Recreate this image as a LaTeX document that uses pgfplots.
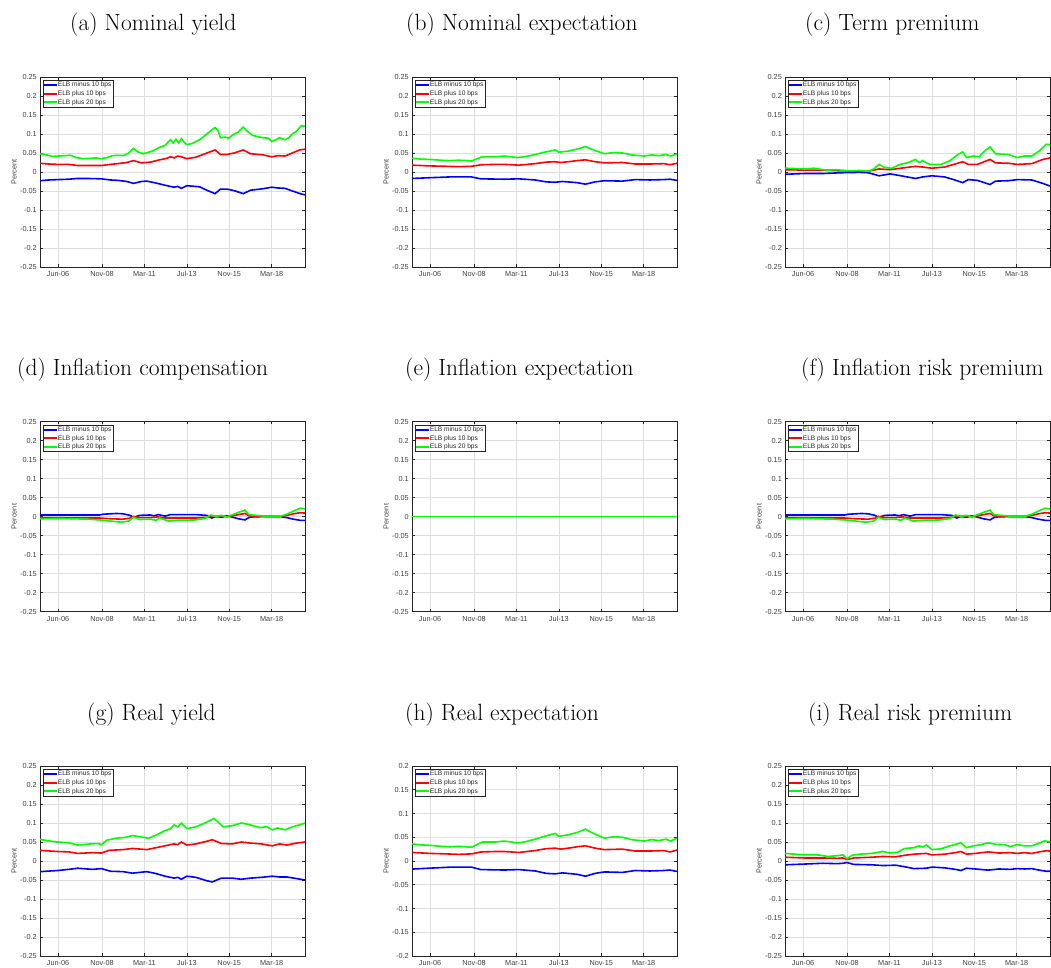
\documentclass[border=0pt]{standalone}
\usepackage{fontspec}
\usepackage{pgfplots}
\usepackage{pgfplotstable}
\pgfplotsset{compat=1.18}
\newfontfamily\hv{Liberation Sans}
\definecolor{mgrid}{RGB}{222,222,222}
\definecolor{maxis}{RGB}{38,38,38}

% ---- (a) Nominal yield
\pgfplotstableread{
x y
2005.42 -0.023
2005.9 -0.021
2006.42 -0.020
2007.0 -0.019
2007.5 -0.017
2008.0 -0.017
2008.8 -0.018
2009.3 -0.021
2009.7 -0.022
2010.2 -0.025
2010.56 -0.030
2011.0 -0.025
2011.3 -0.024
2011.8 -0.029
2012.4 -0.036
2012.8 -0.040
2013.0 -0.038
2013.2 -0.043
2013.5 -0.036
2014.2 -0.039
2014.6 -0.048
2015.05 -0.057
2015.35 -0.045
2015.7 -0.045
2016.1 -0.049
2016.6 -0.057
2017.0 -0.048
2017.7 -0.044
2018.17 -0.040
2018.5 -0.042
2018.9 -0.043
2019.3 -0.050
2019.8 -0.058
2020.0 -0.060
}\aB
\pgfplotstableread{
x y
2005.42 0.023
2005.9 0.021
2006.42 0.020
2007.0 0.020
2007.5 0.017
2008.0 0.017
2008.8 0.017
2009.3 0.020
2009.7 0.022
2010.2 0.025
2010.56 0.030
2011.0 0.024
2011.5 0.026
2012.0 0.032
2012.4 0.036
2012.6 0.040
2012.8 0.037
2013.0 0.042
2013.2 0.040
2013.5 0.035
2014.0 0.039
2014.5 0.048
2015.05 0.058
2015.35 0.046
2015.7 0.046
2016.1 0.050
2016.6 0.058
2017.0 0.048
2017.7 0.045
2018.17 0.040
2018.5 0.043
2018.9 0.042
2019.3 0.050
2019.7 0.058
2020.0 0.060
}\aR
\pgfplotstableread{
x y
2005.42 0.048
2005.8 0.045
2006.1 0.041
2006.42 0.042
2006.8 0.043
2007.1 0.044
2007.4 0.038
2007.8 0.035
2008.2 0.036
2008.5 0.037
2008.8 0.035
2009.1 0.038
2009.4 0.043
2009.7 0.044
2010.0 0.043
2010.3 0.050
2010.56 0.062
2010.8 0.053
2011.1 0.048
2011.4 0.052
2011.65 0.056
2012.0 0.065
2012.3 0.070
2012.5 0.080
2012.6 0.085
2012.75 0.076
2012.9 0.086
2013.05 0.076
2013.2 0.088
2013.35 0.078
2013.5 0.072
2013.8 0.075
2014.2 0.085
2014.6 0.100
2014.9 0.112
2015.05 0.117
2015.2 0.110
2015.35 0.090
2015.6 0.092
2015.8 0.089
2016.1 0.100
2016.3 0.104
2016.6 0.118
2016.8 0.108
2017.1 0.097
2017.4 0.093
2017.7 0.090
2018.0 0.089
2018.17 0.080
2018.4 0.085
2018.6 0.090
2018.9 0.085
2019.1 0.090
2019.3 0.100
2019.5 0.106
2019.8 0.122
2020.0 0.120
}\aG

% ---- (b) Nominal expectation = (h) Real expectation
\pgfplotstableread{
x y
2005.42 -0.017
2006.42 -0.015
2007.5 -0.013
2008.7 -0.013
2009.2 -0.018
2010.5 -0.019
2011.3 -0.018
2012.2 -0.021
2012.8 -0.026
2013.3 -0.027
2013.7 -0.025
2014.5 -0.028
2014.96 -0.032
2015.5 -0.026
2016.0 -0.023
2017.0 -0.024
2017.7 -0.020
2018.5 -0.021
2019.3 -0.020
2019.6 -0.019
2020.0 -0.022
}\bB
\pgfplotstableread{
x y
2005.42 0.018
2006.42 0.016
2007.3 0.015
2008.0 0.014
2008.7 0.015
2009.2 0.019
2010.0 0.020
2010.5 0.020
2011.3 0.018
2012.2 0.022
2012.8 0.026
2013.3 0.027
2013.6 0.025
2014.2 0.028
2014.5 0.030
2014.96 0.032
2015.5 0.027
2016.0 0.024
2017.0 0.025
2017.7 0.021
2018.5 0.021
2019.3 0.022
2019.6 0.019
2020.0 0.023
}\bR
\pgfplotstableread{
x y
2005.42 0.036
2005.9 0.034
2006.42 0.033
2007.0 0.031
2007.5 0.030
2008.0 0.031
2008.7 0.029
2009.0 0.035
2009.3 0.040
2010.0 0.040
2010.5 0.042
2010.9 0.040
2011.2 0.038
2011.6 0.040
2012.2 0.046
2012.6 0.051
2013.0 0.055
2013.3 0.058
2013.5 0.052
2014.0 0.055
2014.5 0.060
2014.96 0.067
2015.3 0.060
2015.7 0.053
2016.0 0.048
2016.5 0.051
2017.0 0.050
2017.5 0.045
2018.2 0.042
2018.6 0.045
2019.0 0.043
2019.4 0.046
2019.65 0.042
2020.0 0.048
}\bG

% ---- (c) Term premium
\pgfplotstableread{
x y
2005.42 -0.006
2006.5 -0.004
2007.5 -0.004
2008.5 -0.002
2009.5 -0.001
2010.0 -0.002
2010.6 -0.010
2011.2 -0.005
2011.8 -0.010
2012.6 -0.017
2013.0 -0.013
2013.5 -0.010
2014.2 -0.013
2014.7 -0.020
2015.2 -0.028
2015.5 -0.020
2016.0 -0.022
2016.7 -0.033
2017.0 -0.024
2017.7 -0.023
2018.2 -0.020
2019.0 -0.021
2019.6 -0.030
2020.0 -0.037
}\cB
\pgfplotstableread{
x y
2005.42 0.006
2006.5 0.005
2007.5 0.005
2008.5 0.003
2009.5 0.002
2010.0 0.002
2010.6 0.008
2011.2 0.006
2011.8 0.010
2012.6 0.015
2013.0 0.013
2013.5 0.010
2014.2 0.013
2014.7 0.020
2015.2 0.027
2015.5 0.020
2016.0 0.020
2016.7 0.033
2017.0 0.024
2017.7 0.023
2018.2 0.020
2019.0 0.022
2019.6 0.033
2020.0 0.037
}\cR
\pgfplotstableread{
x y
2005.42 0.010
2006.0 0.009
2006.5 0.008
2007.0 0.010
2007.4 0.007
2007.7 0.005
2008.3 0.006
2009.0 0.003
2009.5 0.004
2010.0 0.002
2010.3 0.008
2010.6 0.020
2010.8 0.014
2011.0 0.011
2011.3 0.010
2011.7 0.019
2012.2 0.025
2012.6 0.033
2012.8 0.025
2013.0 0.030
2013.2 0.024
2013.4 0.020
2014.0 0.020
2014.5 0.030
2014.9 0.045
2015.2 0.053
2015.4 0.038
2015.8 0.042
2016.1 0.040
2016.4 0.055
2016.7 0.066
2017.0 0.048
2017.7 0.046
2018.2 0.038
2018.6 0.042
2019.0 0.042
2019.4 0.055
2019.8 0.073
2020.0 0.072
}\cG

% ---- (d) Inflation compensation = (f) Inflation risk premium
\pgfplotstableread{
x y
2005.42 0.004
2008.7 0.004
2008.9 0.006
2009.64 0.008
2010.0 0.007
2010.37 0.003
2010.56 -0.002
2010.92 0.003
2011.47 0.004
2011.7 0.002
2011.93 0.005
2012.3 0.001
2012.6 0.005
2014.0 0.005
2014.6 0.003
2014.87 -0.004
2015.1 0.000
2015.42 -0.002
2015.7 0.002
2015.95 -0.001
2016.34 -0.006
2016.7 -0.009
2016.9 -0.003
2017.16 -0.001
2017.9 0.000
2018.6 0.000
2019.0 -0.003
2019.36 -0.007
2019.73 -0.010
2020.0 -0.010
}\dB
\pgfplotstableread{
x y
2005.42 -0.003
2008.7 -0.004
2009.3 -0.006
2010.0 -0.007
2010.4 -0.004
2010.56 0.000
2010.9 -0.003
2011.5 -0.003
2011.9 -0.001
2012.3 -0.004
2014.0 -0.004
2014.6 -0.002
2014.87 0.002
2015.1 0.000
2015.42 0.002
2015.7 -0.001
2016.34 0.005
2016.7 0.008
2016.9 0.002
2017.2 0.001
2017.9 0.000
2018.6 0.000
2019.0 0.003
2019.36 0.007
2019.73 0.010
2020.0 0.009
}\dR
\pgfplotstableread{
x y
2005.42 -0.006
2006.5 -0.005
2008.0 -0.007
2008.7 -0.009
2009.3 -0.012
2009.9 -0.015
2010.3 -0.012
2010.56 -0.002
2010.9 -0.008
2011.5 -0.007
2011.8 -0.010
2012.0 -0.004
2012.5 -0.012
2013.0 -0.010
2014.0 -0.009
2014.5 -0.005
2014.8 0.004
2015.1 0.000
2015.4 0.003
2015.7 -0.001
2016.3 0.010
2016.7 0.017
2016.9 0.005
2017.3 0.003
2017.6 0.002
2017.9 0.000
2018.6 0.000
2019.0 0.006
2019.36 0.014
2019.73 0.022
2020.0 0.020
}\dG

% ---- (e) Inflation expectation (all zero)
\pgfplotstableread{
x y
2005.42 0
2020.0 0
}\eZ

% ---- (g) Real yield
\pgfplotstableread{
x y
2005.42 -0.028
2006.4 -0.025
2007.0 -0.022
2007.5 -0.019
2008.3 -0.022
2008.8 -0.020
2009.3 -0.027
2010.0 -0.028
2010.5 -0.032
2011.3 -0.028
2011.8 -0.033
2012.3 -0.040
2012.8 -0.045
2013.0 -0.043
2013.2 -0.048
2013.5 -0.040
2014.0 -0.043
2014.6 -0.052
2014.9 -0.055
2015.4 -0.045
2016.0 -0.045
2016.5 -0.048
2017.0 -0.045
2017.6 -0.043
2018.2 -0.040
2018.6 -0.042
2019.0 -0.042
2019.5 -0.046
2020.0 -0.050
}\gB
\pgfplotstableread{
x y
2005.42 0.028
2006.4 0.025
2007.0 0.024
2007.5 0.020
2008.3 0.022
2008.8 0.021
2009.2 0.028
2010.0 0.030
2010.5 0.033
2011.3 0.030
2011.8 0.035
2012.3 0.040
2012.8 0.045
2013.0 0.043
2013.2 0.050
2013.5 0.042
2014.0 0.045
2014.6 0.052
2014.9 0.056
2015.4 0.046
2016.0 0.045
2016.5 0.050
2017.0 0.047
2017.6 0.045
2018.2 0.040
2018.6 0.045
2019.0 0.042
2019.5 0.047
2020.0 0.050
}\gR
\pgfplotstableread{
x y
2005.42 0.057
2005.9 0.053
2006.4 0.050
2007.0 0.048
2007.5 0.042
2008.2 0.045
2008.6 0.046
2008.8 0.043
2009.1 0.055
2009.6 0.060
2010.1 0.062
2010.5 0.067
2011.0 0.063
2011.4 0.060
2011.8 0.068
2012.3 0.080
2012.6 0.085
2012.8 0.095
2013.0 0.090
2013.2 0.100
2013.5 0.085
2014.0 0.090
2014.5 0.100
2014.9 0.110
2015.0 0.112
2015.5 0.090
2016.0 0.093
2016.5 0.100
2017.0 0.095
2017.5 0.088
2017.9 0.090
2018.2 0.082
2018.5 0.087
2018.9 0.082
2019.3 0.090
2019.7 0.095
2020.0 0.100
}\gG

% ---- (i) Real risk premium
\pgfplotstableread{
x y
2005.42 -0.010
2006.5 -0.008
2007.5 -0.006
2008.3 -0.007
2008.6 -0.006
2008.83 -0.004
2009.2 -0.009
2010.2 -0.010
2010.8 -0.012
2011.5 -0.011
2012.0 -0.015
2012.5 -0.020
2013.2 -0.019
2013.5 -0.016
2014.2 -0.018
2014.8 -0.022
2015.1 -0.025
2015.4 -0.019
2015.9 -0.021
2016.6 -0.024
2017.2 -0.021
2017.8 -0.022
2018.2 -0.020
2018.6 -0.021
2019.0 -0.020
2019.4 -0.024
2019.8 -0.027
2020.0 -0.027
}\iB
\pgfplotstableread{
x y
2005.42 0.010
2006.5 0.008
2007.5 0.008
2008.3 0.007
2008.6 0.008
2008.83 0.004
2009.2 0.008
2010.2 0.010
2010.8 0.012
2011.5 0.011
2012.0 0.015
2012.5 0.018
2013.2 0.020
2013.5 0.016
2014.2 0.018
2014.8 0.022
2015.1 0.025
2015.4 0.018
2015.9 0.020
2016.6 0.024
2017.2 0.021
2017.8 0.022
2018.2 0.020
2018.6 0.022
2019.0 0.020
2019.4 0.024
2019.8 0.027
2020.0 0.026
}\iR
\pgfplotstableread{
x y
2005.42 0.020
2006.5 0.016
2007.2 0.016
2007.8 0.012
2008.3 0.014
2008.6 0.016
2008.83 0.006
2009.1 0.015
2009.5 0.018
2010.2 0.020
2010.8 0.025
2011.2 0.021
2011.6 0.023
2012.0 0.033
2012.5 0.035
2012.8 0.040
2013.0 0.037
2013.2 0.042
2013.5 0.030
2014.0 0.032
2014.5 0.040
2014.9 0.045
2015.1 0.048
2015.4 0.035
2015.8 0.040
2016.2 0.043
2016.6 0.048
2017.0 0.044
2017.5 0.043
2017.8 0.038
2018.2 0.043
2018.6 0.040
2019.0 0.040
2019.3 0.045
2019.7 0.053
2020.0 0.050
}\iG

\newcommand\tickfont{\hv\fontsize{7.3}{8.5}\selectfont}
\pgfplotsset{
  elb/.style={
    scale only axis, width=265pt, height=190pt,
    xmin=2005.42, xmax=2020.0, ymin=-0.25, ymax=0.25,
    xtick={2006.417,2008.833,2011.167,2013.5,2015.833,2018.167},
    xticklabels={Jun-06,Nov-08,Mar-11,Jul-13,Nov-15,Mar-18},
    ytick={-0.25,-0.2,-0.15,-0.1,-0.05,0,0.05,0.1,0.15,0.2,0.25},
    yticklabels={-0.25,-0.2,-0.15,-0.1,-0.05,0,0.05,0.1,0.15,0.2,0.25},
    grid=major, major grid style={draw=mgrid, line width=0.7pt},
    axis line style={draw=maxis, line width=0.8pt},
    tick align=inside, major tick length=2.6pt,
    tick style={draw=maxis, line width=0.6pt},
    xticklabel style={font=\tickfont, text=black!75, inner sep=0pt, yshift=-4.5pt},
    yticklabel style={font=\tickfont, text=black!75, inner sep=0pt, xshift=-3pt},
    ylabel={Percent},
    ylabel style={font=\tickfont, text=black!75, at={(axis description cs:-0.098,0.5)}, anchor=center},
    legend style={at={(axis description cs:0,1)}, anchor=north west,
      xshift=2.7pt, yshift=-3pt, draw=maxis, line width=0.8pt,
      font=\hv\fontsize{6.6}{7}\selectfont, text=black!85,
      inner xsep=1.2pt, inner ysep=1pt, row sep=1.4pt,
      cells={anchor=west},
      nodes={inner sep=0.6pt, text height=4.8pt, text depth=1.3pt}},
    legend image code/.code={\fill[#1, draw=none] (0pt,-1pt) rectangle (13pt,1pt);},
    every axis plot/.append style={line width=1.6pt, sharp plot},
  }
}
\newcommand\elbpanel[6]{%
  \begin{axis}[elb, at={(#1pt,#2pt)}, anchor=north west, #6]
    \addplot[blue] table {#3};
    \addplot[red] table {#4};
    \addplot[green] table {#5};
    \legend{ELB minus 10 bps,ELB plus 10 bps,ELB plus 20 bps}
  \end{axis}}

\begin{document}
\begin{tikzpicture}
\useasboundingbox (0,0) rectangle (1051pt,-968pt);

\tikzset{ttl/.style={anchor=base west, inner sep=0pt, font=\fontsize{23.5}{28}\selectfont}}
\node[ttl] at (70pt,-31pt) {(a) Nominal yield};
\node[ttl] at (406pt,-31pt) {(b) Nominal expectation};
\node[ttl] at (805pt,-31pt) {(c) Term premium};
\node[ttl] at (17pt,-375.5pt) {(d) Inflation compensation};
\node[ttl] at (405pt,-375.5pt) {(e) Inflation expectation};
\node[ttl] at (801pt,-375.5pt) {(f) Inflation risk premium};
\node[ttl] at (87pt,-720pt) {(g) Real yield};
\node[ttl] at (405pt,-720pt) {(h) Real expectation};
\node[ttl] at (808pt,-720pt) {(i) Real risk premium};

\elbpanel{40}{-77}{\aB}{\aR}{\aG}{}
\elbpanel{412}{-77}{\bB}{\bR}{\bG}{}
\elbpanel{785}{-77}{\cB}{\cR}{\cG}{}
\elbpanel{40}{-421.5}{\dB}{\dR}{\dG}{}
\elbpanel{412}{-421.5}{\eZ}{\eZ}{\eZ}{}
\elbpanel{785}{-421.5}{\dB}{\dR}{\dG}{}
\elbpanel{40}{-766}{\gB}{\gR}{\gG}{}
\elbpanel{412}{-766}{\bB}{\bR}{\bG}{ymin=-0.2, ymax=0.2,
  ytick={-0.2,-0.15,-0.1,-0.05,0,0.05,0.1,0.15,0.2},
  yticklabels={-0.2,-0.15,-0.1,-0.05,0,0.05,0.1,0.15,0.2}}
\elbpanel{785}{-766}{\iB}{\iR}{\iG}{}
\end{tikzpicture}
\end{document}
